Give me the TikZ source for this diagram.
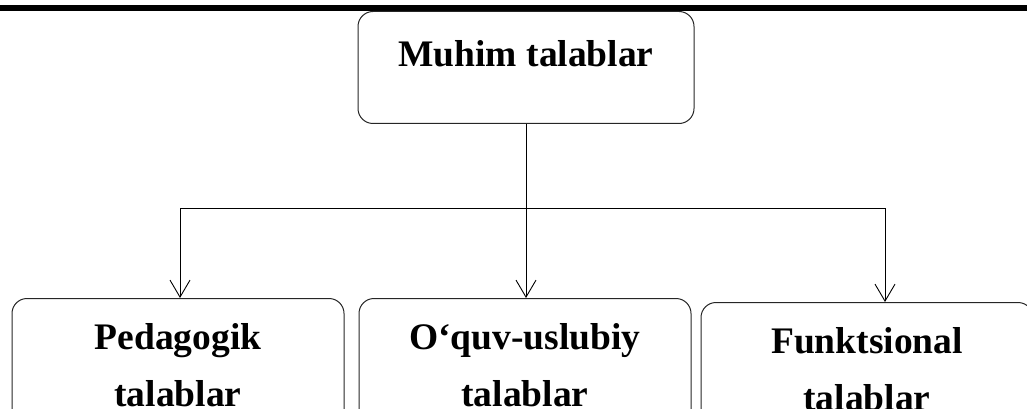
\documentclass[tikz,border=0pt]{standalone}
\usepackage{fontspec}
\setmainfont{Liberation Serif}
\usetikzlibrary{arrows.meta}

\begin{document}
\begin{tikzpicture}[x=1pt, y=-1pt,
	>={Straight Barb[length=17pt,width=20pt]},
	box/.style={shape=rectangle, rounded corners=15pt, draw=black!85, line width=1pt, inner xsep=0pt, anchor=north, font=\fontsize{37.5}{57}\selectfont\bfseries},
	twoline/.style={box, align=center, inner ysep=25pt, minimum width=332pt},
	conn/.style={black, line width=0.9pt}]
	\clip (0,0) rectangle (1027,409);

	\draw[line width=6pt] (0,8) -- (1027,8);

	\node[box, minimum width=336pt, inner ysep=0pt, text height=55pt, text depth=57pt] (0) at (526,11) {Muhim talablar};
	\node[twoline]  (1) at (178,298) {Pedagogik\\talablar};
	\node[twoline]  (2) at (525,298) {O‘quv-uslubiy\\talablar};
	\node[twoline]  (3) at (867,302) {Funktsional\\talablar};

	\coordinate (4) at (180,208);
	\coordinate (5) at (885,208);

	\path [conn, -]  (4) edge (5);
	\path [conn, ->] (0.south) edge (0.south |- 2.north);
	\path [conn, ->] (4) edge (4 |- 1.north);
	\path [conn, ->] (5) edge (5 |- 3.north);
\end{tikzpicture}
\end{document}
